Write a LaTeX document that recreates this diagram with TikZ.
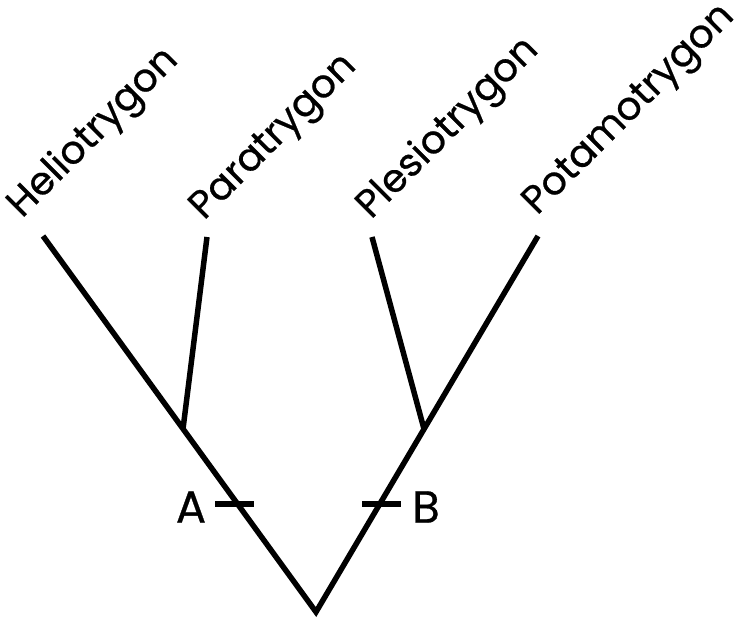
\documentclass[tikz,border=0pt]{standalone}
\usepackage{fontspec}
\setmainfont{Poppins}[FakeBold=0.6]
\begin{document}
\begin{tikzpicture}[x=1pt,y=1pt,
  branch/.style={line width=5.5pt},
  tickline/.style={line width=5.5pt},
  taxon/.style={anchor=base west,rotate=45,font=\fontsize{39}{39}\selectfont,inner sep=0pt},
  marklabel/.style={font=\fontsize{45}{45}\selectfont,inner sep=0pt}]
\useasboundingbox (0,0) rectangle (747,619);
\coordinate (root) at (316,7);
\coordinate (nA) at (183,190);
\coordinate (nB) at (424,190);
\coordinate (h) at (43,383);
\coordinate (pa) at (207,382);
\coordinate (pl) at (372,382);
\coordinate (po) at (538,383);
\draw[branch] (h) -- (root) -- (po);
\draw[branch] (pa) -- (nA);
\draw[branch] (pl) -- (nB);
\coordinate (tA1) at (215,115);
\coordinate (tA2) at (254,115);
\coordinate (tB1) at (362,115);
\coordinate (tB2) at (401,115);
\draw[tickline] (tA1) -- (tA2);
\draw[tickline] (tB1) -- (tB2);
\node[marklabel] (lA) at (191,112) {A};
\node[marklabel] (lB) at (426,112) {B};
\node[taxon] (th) at (22,400) {Heliotrygon};
\node[taxon] (tpa) at (204,398) {Paratrygon};
\node[taxon] (tpl) at (371,399) {Plesiotrygon};
\node[taxon] (tpo) at (537,403) {Potamotrygon};
\end{tikzpicture}
\end{document}
